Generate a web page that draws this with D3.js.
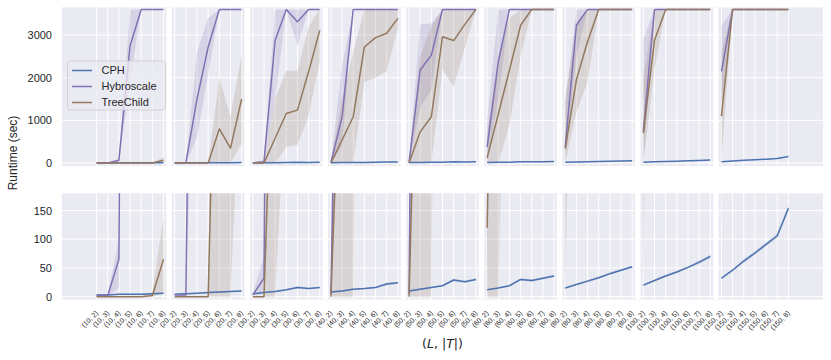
<!DOCTYPE html>
<html>
<head>
<meta charset="utf-8">
<script src="https://cdn.jsdelivr.net/npm/d3@7"></script>
<style>
body { margin: 0; background: #fff; }
text { font-family: "Liberation Sans", Arial, sans-serif; fill: #262626; }
</style>
</head>
<body>
<div class="chart"></div>
<script>

var Ls = [10, 20, 30, 40, 50, 60, 80, 100, 150];
var Ts = [2, 3, 4, 5, 6, 7, 8];
var categories = [];
Ls.forEach(function(l) {
  Ts.forEach(function(t) { categories.push('(' + l + ', ' + t + ')'); });
});

var methods = ['CPH', 'Hybroscale', 'TreeChild'];
var colors = ['#4C72B0', '#8172B3', '#937860'];

// one block of 7 values per L
var cphMean = [3, 3, 4, 4, 4, 5, 6,  4, 5, 6, 7, 8, 9, 10,  5, 7, 9, 12, 16, 14, 16,
               8, 10, 13, 14, 16, 22, 24,  10, 13, 16, 19, 29, 26, 30,  12, 15, 19, 30, 28, 32, 36,
               15, 21, 27, 33, 40, 46, 52,  20, 28, 36, 43, 51, 60, 70,  32, 46, 62, 76, 91, 106, 154];
var cphLo   = [2, 2, 3, 3, 3, 4, 5,  3, 4, 5, 6, 7, 8, 9,  4, 6, 8, 11, 14, 13, 15,
               7, 9, 12, 13, 15, 20, 22,  9, 12, 15, 18, 27, 24, 28,  11, 14, 18, 28, 26, 30, 34,
               14, 20, 25, 31, 38, 44, 50,  19, 26, 34, 41, 49, 57, 67,  30, 44, 59, 73, 88, 102, 149];
var cphHi   = [4, 4, 5, 5, 5, 6, 7,  5, 6, 7, 8, 9, 10, 11,  6, 8, 10, 13, 18, 15, 17,
               9, 11, 14, 15, 17, 24, 26,  11, 14, 17, 20, 31, 28, 32,  13, 16, 20, 32, 30, 34, 38,
               16, 22, 29, 35, 42, 48, 54,  21, 30, 38, 45, 53, 63, 73,  34, 48, 65, 79, 94, 110, 159];

var hybMean = [2, 2, 65, 2750, 3600, 3600, 3600,  3, 3, 1500, 2720, 3600, 3600, 3600,
               3, 32, 2880, 3600, 3310, 3600, 3600,  5, 1080, 3600, 3600, 3600, 3600, 3600,
               5, 2180, 2530, 3600, 3600, 3600, 3600,  380, 2370, 3600, 3600, 3600, 3600, 3600,
               380, 3230, 3600, 3600, 3600, 3600, 3600,  750, 3600, 3600, 3600, 3600, 3600, 3600,
               2150, 3600, 3600, 3600, 3600, 3600, 3600];
var hybLo   = [1, 1, 15, 1900, 3600, 3600, 3600,  2, 2, 600, 2100, 3600, 3600, 3600,
               2, 5, 1500, 3600, 2750, 3600, 3600,  3, 400, 3600, 3600, 3600, 3600, 3600,
               3, 1300, 1700, 3600, 3600, 3600, 3600,  0, 1500, 3600, 3600, 3600, 3600, 3600,
               0, 2500, 3600, 3600, 3600, 3600, 3600,  5, 3600, 3600, 3600, 3600, 3600, 3600,
               1300, 3600, 3600, 3600, 3600, 3600, 3600];
var hybHi   = [3, 4, 100, 3600, 3600, 3600, 3600,  4, 4, 2600, 3400, 3600, 3600, 3600,
               5, 70, 3600, 3600, 3600, 3600, 3600,  8, 2300, 3600, 3600, 3600, 3600, 3600,
               8, 3250, 3270, 3600, 3600, 3600, 3600,  1000, 3600, 3600, 3600, 3600, 3600, 3600,
               1400, 3600, 3600, 3600, 3600, 3600, 3600,  2900, 3600, 3600, 3600, 3600, 3600, 3600,
               3230, 3600, 3600, 3600, 3600, 3600, 3600];

var tcMean  = [0, 0, 0, 0, 0, 2, 65,  0, 0, 0, 0, 800, 350, 1500,
               0, 0, 580, 1160, 1240, 2140, 3110,  0, 540, 1085, 2720, 2940, 3040, 3390,
               0, 730, 1085, 2960, 2870, 3250, 3600,  120, 1150, 2180, 3230, 3600, 3600, 3600,
               340, 1950, 2850, 3600, 3600, 3600, 3600,  700, 2880, 3600, 3600, 3600, 3600, 3600,
               1100, 3600, 3600, 3600, 3600, 3600, 3600];
var tcLo    = [0, 0, 0, 0, 0, 0, 5,  0, 0, 0, 0, 0, 0, 450,
               0, 0, 0, 380, 420, 1100, 2400,  0, 0, 0, 1900, 2000, 2150, 3150,
               0, 0, 0, 2200, 1790, 2700, 3600,  0, 0, 900, 2500, 3600, 3600, 3600,
               0, 1200, 1900, 3600, 3600, 3600, 3600,  5, 2200, 3600, 3600, 3600, 3600, 3600,
               67, 3600, 3600, 3600, 3600, 3600, 3600];
var tcHi    = [0, 0, 0, 0, 0, 8, 140,  0, 0, 0, 0, 2000, 1080, 2550,
               0, 0, 1500, 2160, 2160, 3200, 3600,  0, 1500, 2600, 3600, 3600, 3600, 3600,
               0, 2500, 3200, 3600, 3600, 3600, 3600,  700, 2500, 3400, 3600, 3600, 3600, 3600,
               1500, 3300, 3600, 3600, 3600, 3600, 3600,  2000, 3600, 3600, 3600, 3600, 3600, 3600,
               2600, 3600, 3600, 3600, 3600, 3600, 3600];

var topTicks = [0, 1000, 2000, 3000];
var bottomTicks = [0, 50, 100, 150];

var series = [
  {name: methods[0], color: colors[0], mean: cphMean, lo: cphLo, hi: cphHi},
  {name: methods[1], color: colors[1], mean: hybMean, lo: hybLo, hi: hybHi},
  {name: methods[2], color: colors[2], mean: tcMean, lo: tcLo, hi: tcHi}
];

var svg = d3.select('.chart').append('svg')
            .attr('width', 831)
            .attr('height', 360);

var defs = svg.append('defs');

var x = d3.scaleLinear()
          .domain([-3.1, categories.length - 1 + 3.1])
          .range([62, 823]);

var rows = [
  {y: d3.scaleLinear().domain([-70, 3650]).range([166, 7.3]), ticks: topTicks},
  {y: d3.scaleLinear().domain([-5, 180]).range([299.5, 193.3]), ticks: bottomTicks}
];

var groupIdx = function(gi) {
  return d3.range(gi * Ts.length, gi * Ts.length + Ts.length);
};

rows.forEach(function(r, k) {
  var top = r.y.range()[1], bottom = r.y.range()[0];
  var g = svg.append('g');

  g.append('rect')
   .attr('x', x.range()[0]).attr('y', top)
   .attr('width', x.range()[1] - x.range()[0]).attr('height', bottom - top)
   .attr('fill', '#EAEAF2');

  g.selectAll('.hgrid').data(r.ticks).enter().append('line')
   .attr('x1', x.range()[0]).attr('x2', x.range()[1])
   .attr('y1', function(d) { return r.y(d); })
   .attr('y2', function(d) { return r.y(d); })
   .attr('stroke', '#fff').attr('stroke-width', 1);

  g.selectAll('.vgrid').data(d3.range(categories.length)).enter().append('line')
   .attr('x1', function(d) { return x(d); })
   .attr('x2', function(d) { return x(d); })
   .attr('y1', top).attr('y2', bottom)
   .attr('stroke', '#fff').attr('stroke-width', 1);

  // thick white split between L groups
  g.selectAll('.sep').data(d3.range(1, Ls.length)).enter().append('line')
   .attr('x1', function(d) { return x(d * Ts.length - 0.5); })
   .attr('x2', function(d) { return x(d * Ts.length - 0.5); })
   .attr('y1', top).attr('y2', bottom)
   .attr('stroke', '#fff').attr('stroke-width', 5.5);

  defs.append('clipPath').attr('id', 'clip' + k)
      .append('rect')
      .attr('x', x.range()[0]).attr('y', top)
      .attr('width', x.range()[1] - x.range()[0]).attr('height', bottom - top);

  var plot = g.append('g').attr('clip-path', 'url(#clip' + k + ')');

  var area = d3.area()
               .x(function(i) { return x(i); });
  var line = d3.line()
               .x(function(i) { return x(i); });

  series.forEach(function(s) {
    Ls.forEach(function(l, gi) {
      plot.append('path')
          .datum(groupIdx(gi))
          .attr('d', area.y0(function(i) { return r.y(s.lo[i]); })
                         .y1(function(i) { return r.y(s.hi[i]); }))
          .attr('fill', s.color)
          .attr('fill-opacity', 0.2);
    });
  });

  series.forEach(function(s) {
    Ls.forEach(function(l, gi) {
      plot.append('path')
          .datum(groupIdx(gi))
          .attr('d', line.y(function(i) { return r.y(s.mean[i]); }))
          .attr('fill', 'none')
          .attr('stroke', s.color)
          .attr('stroke-width', 1.5)
          .attr('stroke-linejoin', 'round');
    });
  });

  var yAxis = g.append('g')
               .attr('transform', 'translate(' + x.range()[0] + ',0)')
               .call(d3.axisLeft(r.y).tickValues(r.ticks).tickFormat(d3.format('d'))
                       .tickSize(0).tickPadding(10));
  yAxis.select('.domain').remove();
  yAxis.selectAll('text')
       .attr('font-size', 11)
       .style('font-family', '"Liberation Sans", Arial, sans-serif')
       .attr('fill', '#262626');

  if (k === 1) {
    var xAxis = g.append('g')
                 .attr('transform', 'translate(0,' + bottom + ')')
                 .call(d3.axisBottom(x)
                         .tickValues(d3.range(categories.length))
                         .tickFormat(function(i) { return categories[i]; })
                         .tickSize(0));
    xAxis.select('.domain').remove();
    xAxis.selectAll('text')
         .attr('x', 0).attr('y', 0).attr('dy', 0)
         .attr('text-anchor', 'end')
         .attr('transform', 'translate(1.5,14) rotate(-45)')
         .attr('font-size', 7)
         .style('font-family', '"Liberation Sans", Arial, sans-serif')
         .attr('fill', '#262626');
  }
});

// legend
var legend = svg.append('g').attr('transform', 'translate(67.5,61)');
legend.append('rect')
      .attr('width', 98).attr('height', 49)
      .attr('rx', 2.5)
      .attr('fill', '#EAEAF2').attr('fill-opacity', 0.8)
      .attr('stroke', '#cccccc').attr('stroke-width', 0.8);
var entries = legend.selectAll('.entry').data(series).enter().append('g')
                    .attr('transform', function(d, i) { return 'translate(0,' + (9.5 + i * 16) + ')'; });
entries.append('line')
       .attr('x1', 4.5).attr('x2', 24.5)
       .attr('stroke', function(d) { return d.color; })
       .attr('stroke-width', 1.5);
entries.append('text')
       .attr('x', 34).attr('dy', '0.35em')
       .attr('font-size', 11)
       .text(function(d) { return d.name; });

svg.append('text')
   .attr('transform', 'translate(17,153) rotate(-90)')
   .attr('text-anchor', 'middle')
   .attr('font-size', 12)
   .text('Runtime (sec)');

var xl = svg.append('text')
            .attr('x', (x.range()[0] + x.range()[1]) / 2)
            .attr('y', 348)
            .attr('text-anchor', 'middle')
            .attr('font-size', 12.5)
            .style('font-family', '"DejaVu Sans", sans-serif');
xl.append('tspan').text('(');
xl.append('tspan').attr('font-style', 'italic').text('L');
xl.append('tspan').text(', |');
xl.append('tspan').attr('font-style', 'italic').text('T');
xl.append('tspan').text('|)');

</script>
</body>
</html>
